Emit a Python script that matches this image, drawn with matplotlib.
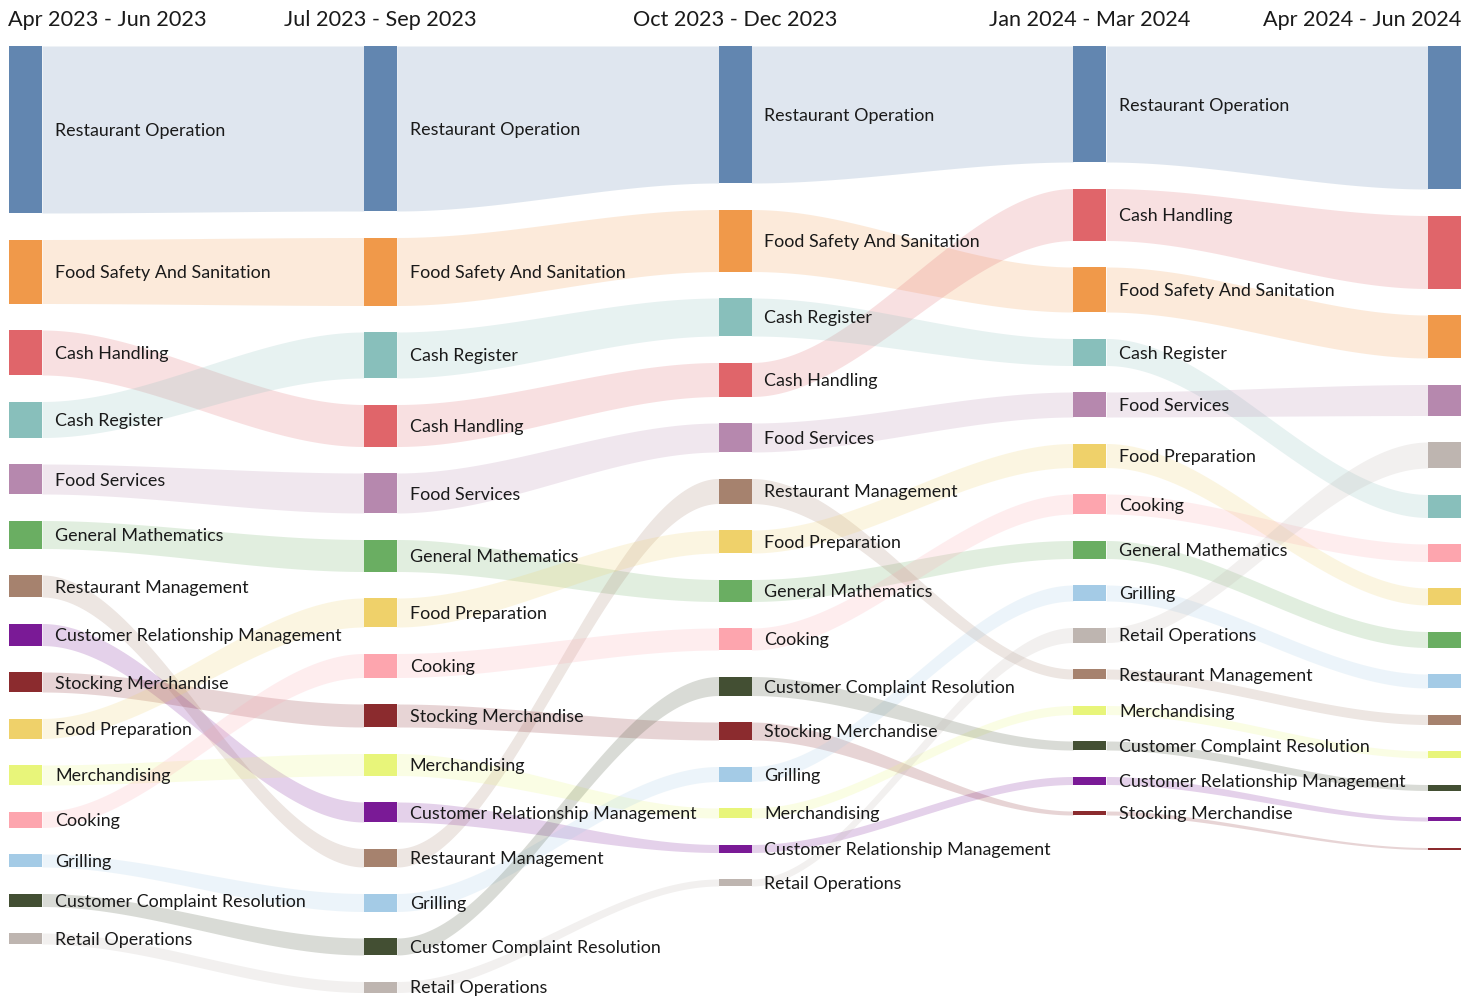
import numpy as np
import matplotlib.pyplot as plt
from matplotlib.patches import Rectangle

plt.rcParams["font.family"] = ["Lato", "DejaVu Sans"]

periods = ["Apr 2023 - Jun 2023", "Jul 2023 - Sep 2023", "Oct 2023 - Dec 2023",
           "Jan 2024 - Mar 2024", "Apr 2024 - Jun 2024"]

skills = ["Restaurant Operation", "Food Safety And Sanitation", "Cash Handling",
          "Cash Register", "Food Services", "General Mathematics",
          "Restaurant Management", "Customer Relationship Management",
          "Stocking Merchandise", "Food Preparation", "Merchandising", "Cooking",
          "Grilling", "Customer Complaint Resolution", "Retail Operations"]

colors = ["#6286B0", "#F0994A", "#E0656A", "#88BFBB", "#B688AE", "#6AAE62",
          "#A6826E", "#7A1A96", "#8B2B2E", "#EFD16A", "#E8F57A", "#FDA5AE",
          "#A4CBE6", "#434F33", "#BEB5B0"]

# demand per skill, one list per quarter (same order as skills)
q2_2023 = [167, 64, 45, 36, 30, 28, 22, 22, 20, 20, 20, 16, 13, 13, 11]
q3_2023 = [165, 68, 42, 46, 40, 32, 18.5, 20, 23, 29, 22, 24, 18, 17, 11]
q4_2023 = [137, 62, 34, 38, 29, 22, 25, 8, 18, 23, 10, 22, 15, 19, 7]
q1_2024 = [116, 45, 52, 27, 25, 18, 10, 8, 4, 24, 9, 20, 16, 9, 15]
q2_2024 = [143, 43, 73, 23, 31, 16, 10, 4, 2, 17, 7, 17.5, 14, 6, 26]
quarters = [q2_2023, q3_2023, q4_2023, q1_2024, q2_2024]

W, H = 1478, 999
top, gap, node_w = 46, 26.5, 33
x_left, x_right = 9, 1461
step = (x_right - node_w - x_left) / (len(periods) - 1)
col_x = [x_left + i * step for i in range(len(periods))]

fig = plt.figure(figsize=(W / 100, H / 100), dpi=100)
ax = fig.add_axes([0, 0, 1, 1])
ax.set_xlim(0, W)
ax.set_ylim(H, 0)
ax.axis("off")

# stack nodes in each column, largest first
pos = []
for vals in quarters:
    order = sorted(range(len(skills)), key=lambda k: -vals[k])
    y = top
    col = {}
    for k in order:
        col[k] = (y, y + vals[k])
        y += vals[k] + gap
    pos.append(col)

# flows between consecutive quarters
for c in range(len(quarters) - 1):
    x0 = col_x[c] + node_w
    x1 = col_x[c + 1]
    xs = np.linspace(x0, x1, 120)
    u = (xs - x0) / (x1 - x0)
    s = 3 * u ** 2 - 2 * u ** 3
    for k in range(len(skills)):
        a0, b0 = pos[c][k]
        a1, b1 = pos[c + 1][k]
        ax.fill_between(xs, a0 + (a1 - a0) * s, b0 + (b1 - b0) * s,
                        color=colors[k], alpha=0.2, lw=0, zorder=1)

# nodes and labels
for c in range(len(quarters)):
    for k in range(len(skills)):
        y0, y1 = pos[c][k]
        ax.add_patch(Rectangle((col_x[c], y0), node_w, y1 - y0,
                               color=colors[k], lw=0, zorder=2))
        if c < len(quarters) - 1:
            ax.text(col_x[c] + node_w + 13, (y0 + y1) / 2 + 1.5, skills[k],
                    fontsize=12.85, color="#1a1a1a", va="center", ha="left",
                    zorder=3)

# quarter headers
for c, name in enumerate(periods):
    if c == 0:
        x, ha = col_x[c] - 1, "left"
    elif c == len(periods) - 1:
        x, ha = col_x[c] + node_w, "right"
    else:
        x, ha = col_x[c] + node_w / 2, "center"
    ax.text(x, 19.5, name, fontsize=15.6, color="#1a1a1a", ha=ha, va="center")

fig.savefig("out.png", dpi=100)
